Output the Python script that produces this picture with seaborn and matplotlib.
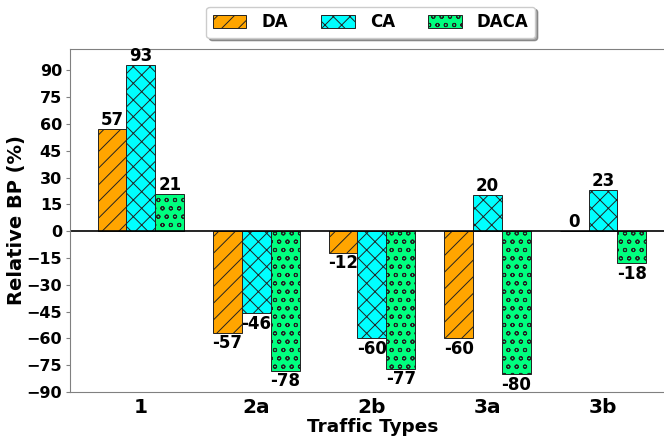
import matplotlib
matplotlib.use("Agg")
import matplotlib.pyplot as plt
import seaborn as sns
import pandas as pd
import numpy as np

categories = ["1", "2a", "2b", "3a", "3b"]
methods = ["DA", "CA", "DACA"]
da_values = [57, -57, -12, -60, 0]
ca_values = [93, -46, -60, 20, 23]
daca_values = [21, -78, -77, -80, -18]
yticks = [-90, -75, -60, -45, -30, -15, 0, 15, 30, 45, 60, 75, 90]

colors = ["#FFA500", "#00FFFF", "#00FF7F"]
hatches = ["//", "xx", "oo"]

df = pd.DataFrame({
    "Traffic Types": categories * 3,
    "value": da_values + ca_values + daca_values,
    "method": ["DA"] * 5 + ["CA"] * 5 + ["DACA"] * 5,
})

sns.set_style("white")
plt.rcParams["font.family"] = ["DejaVu Sans"]
plt.rcParams["hatch.linewidth"] = 0.7
plt.rcParams["hatch.color"] = "black"
plt.rcParams["text.color"] = "black"
plt.rcParams["axes.labelcolor"] = "black"
plt.rcParams["xtick.color"] = "black"
plt.rcParams["ytick.color"] = "black"

fig = plt.figure(figsize=(6.64, 4.37), dpi=100)
ax = fig.add_axes([0.106, 0.103, 0.91, 0.785])

sns.barplot(data=df, x="Traffic Types", y="value", hue="method",
            hue_order=methods, order=categories, palette=colors,
            width=0.75, ax=ax, edgecolor="#222222", linewidth=0.7,
            saturation=1, legend=True)

for cont, h in zip(ax.containers, hatches):
    for bar in cont:
        bar.set_hatch(h)

# annotations
for cont in ax.containers:
    for bar in cont:
        v = bar.get_height()
        x = bar.get_x() + bar.get_width() / 2
        if v >= 0:
            ax.annotate(f"{int(round(v))}", (x, v), xytext=(0, 0),
                        textcoords="offset points", ha="center", va="bottom",
                        fontsize=12, fontweight="bold")
        else:
            ax.annotate(f"{int(round(v))}", (x, v), xytext=(0, -1),
                        textcoords="offset points", ha="center", va="top",
                        fontsize=12, fontweight="bold")

ax.axhline(0, color="black", linewidth=1.2)
ax.set_ylim(-90, 102)
ax.set_xlim(-0.61, 4.62)
ax.set_yticks(yticks)
ax.set_yticklabels([str(t).replace("-", "\u2212") for t in yticks],
                   fontsize=11.5, fontweight="bold")
ax.set_xticks(range(len(categories)))
ax.set_xticklabels(categories, fontsize=14.5, fontweight="bold")
ax.set_ylabel("Relative BP (%)", fontsize=14, fontweight="bold", labelpad=0)
ax.set_xlabel("Traffic Types", fontsize=13.3, fontweight="bold", labelpad=1)
ax.tick_params(axis="y", length=3, left=True, color="gray", pad=3)
ax.tick_params(axis="x", length=0, pad=4)
for s in ax.spines.values():
    s.set_color("gray")

leg = ax.legend(loc="lower center", bbox_to_anchor=(0.497, 1.008), ncol=3,
                frameon=True, shadow=True, fancybox=True,
                prop={"weight": "bold", "size": 12}, handlelength=2.0,
                handleheight=0.9, handletextpad=0.9, columnspacing=2.0,
                borderpad=0.4)
for patch, h in zip(leg.get_patches(), hatches):
    patch.set_hatch(h)

fig.savefig("out.png", dpi=100)
